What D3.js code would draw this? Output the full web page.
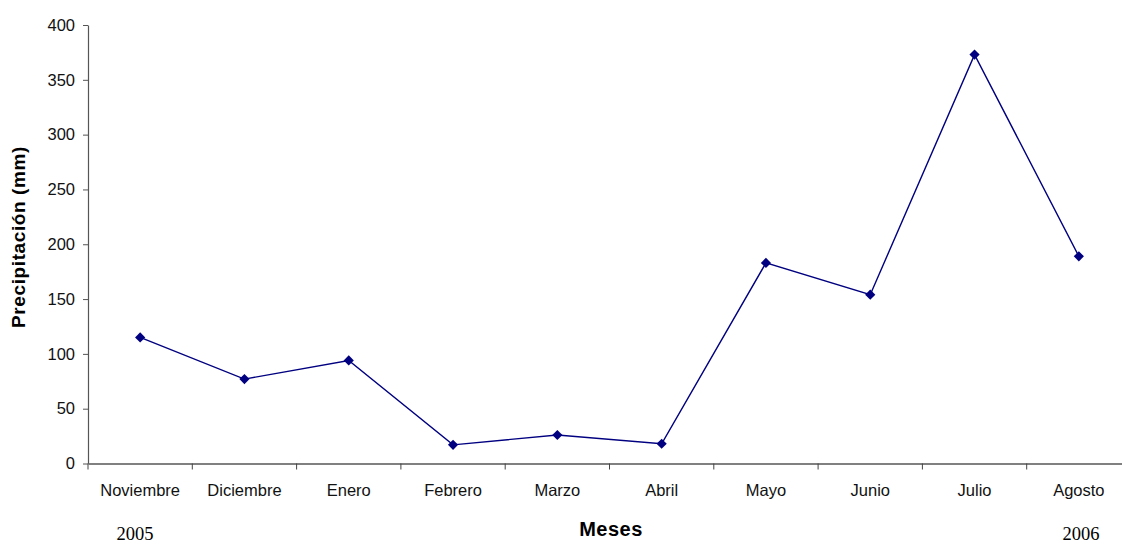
<!DOCTYPE html>
<html>
<head>
<meta charset="utf-8">
<script src="https://d3js.org/d3.v7.min.js"></script>
<style>
  body { margin: 0; background: #fff; }
  svg text { font-family: "Liberation Sans", Arial, sans-serif; }
</style>
</head>
<body>
<div id="chart"></div>
<script>
/* DATA */
const months = ["Noviembre", "Diciembre", "Enero", "Febrero", "Marzo", "Abril", "Mayo", "Junio", "Julio", "Agosto"];
const precip = [115, 77, 94, 17, 26, 18, 183, 154, 373, 189];
const yTicks = [0, 50, 100, 150, 200, 250, 300, 350, 400];

const width = 1122, height = 544;
const margin = { top: 25, left: 88, bottom: 463.5 };

const svg = d3.select("#chart").append("svg")
  .attr("width", width)
  .attr("height", height);

const x = d3.scaleBand()
  .domain(months)
  .range([margin.left, 1131]);

const y = d3.scaleLinear()
  .domain([0, 400])
  .range([margin.bottom, margin.top]);

// y axis
const yAxis = svg.append("g")
  .attr("transform", `translate(${margin.left},0)`)
  .call(d3.axisLeft(y).tickValues(yTicks).tickSize(5).tickPadding(8).tickSizeOuter(0));
yAxis.select(".domain").attr("stroke", "#555").attr("stroke-width", 1.2);
yAxis.selectAll(".tick line").attr("stroke", "#555");
yAxis.selectAll(".tick text").attr("font-size", 16.5).attr("fill", "#111");

// x axis
const xAxis = svg.append("g")
  .attr("transform", `translate(0,${margin.bottom})`)
  .call(d3.axisBottom(x).tickSize(0).tickPadding(21));
xAxis.select(".domain").attr("stroke", "#808080").attr("stroke-width", 1.8);
xAxis.selectAll(".tick text").attr("font-size", 16.5).attr("fill", "#111");
// tick marks at band boundaries
svg.append("g").selectAll("line")
  .data(months)
  .join("line")
  .attr("x1", d => x(d)).attr("x2", d => x(d))
  .attr("y1", margin.bottom).attr("y2", margin.bottom + 6)
  .attr("stroke", "#444");

// line
const cx = d => x(d) + x.bandwidth() / 2;
const line = d3.line()
  .x((d, i) => cx(months[i]))
  .y(d => y(d));

svg.append("path")
  .datum(precip)
  .attr("fill", "none")
  .attr("stroke", "#000080")
  .attr("stroke-width", 1.4)
  .attr("d", line);

svg.append("g").selectAll("path")
  .data(precip)
  .join("path")
  .attr("d", d3.symbol(d3.symbolSquare, 52))
  .attr("transform", (d, i) => `translate(${cx(months[i])},${y(d)}) rotate(45)`)
  .attr("fill", "#000080");

// titles
svg.append("text")
  .attr("transform", `translate(25,237) rotate(-90)`)
  .attr("text-anchor", "middle")
  .attr("font-size", 19)
  .attr("font-weight", "bold")
  .attr("letter-spacing", 0.6)
  .text("Precipitación (mm)");

svg.append("text")
  .attr("x", 611).attr("y", 536)
  .attr("text-anchor", "middle")
  .attr("font-size", 20)
  .attr("font-weight", "bold")
  .attr("letter-spacing", 0.5)
  .text("Meses");

svg.append("text")
  .attr("x", 135).attr("y", 540)
  .attr("text-anchor", "middle")
  .attr("font-size", 18.5)
  .style("font-family", "'Liberation Serif', 'Times New Roman', serif")
  .text("2005");

svg.append("text")
  .attr("x", 1081).attr("y", 540)
  .attr("text-anchor", "middle")
  .attr("font-size", 18.5)
  .style("font-family", "'Liberation Serif', 'Times New Roman', serif")
  .text("2006");
</script>
</body>
</html>
